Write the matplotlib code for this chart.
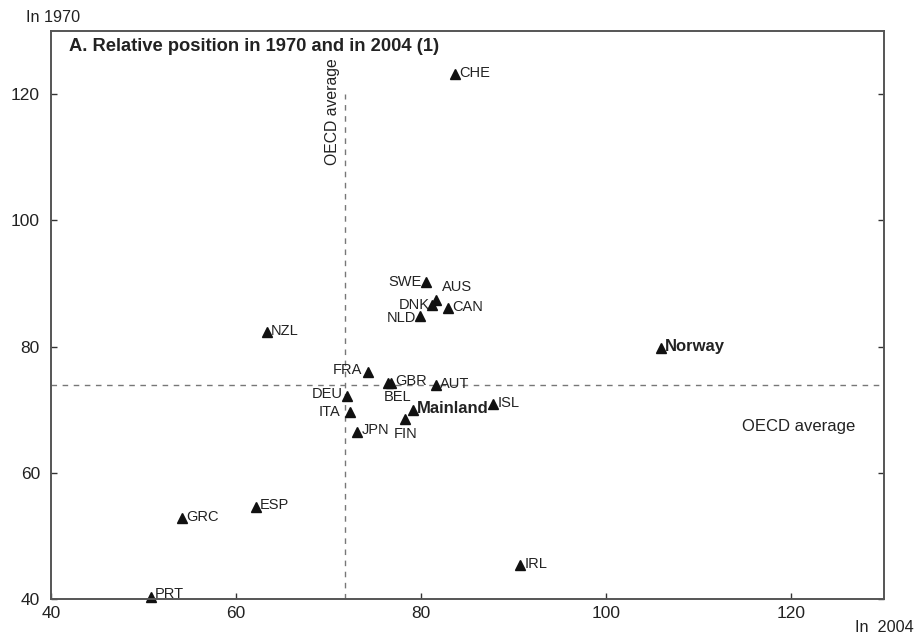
import matplotlib
matplotlib.use("Agg")
import matplotlib.pyplot as plt

plt.rcParams["font.family"] = ["Liberation Sans", "DejaVu Sans"]

# GDP per capita relative position (OECD-relative index)
countries = ["CHE", "SWE", "AUS", "DNK", "CAN", "NLD", "NZL", "FRA", "GBR", "BEL",
             "AUT", "DEU", "ITA", "JPN", "Mainland", "FIN", "ISL", "Norway",
             "GRC", "ESP", "PRT", "IRL"]
in_2004 = [83.7, 80.5, 81.6, 81.2, 82.9, 79.9, 63.3, 74.2, 76.7, 76.4,
           81.6, 72.0, 72.3, 73.1, 79.1, 78.3, 87.8, 105.9,
           54.2, 62.1, 50.8, 90.7]
in_1970 = [123.2, 90.2, 87.3, 86.6, 86.1, 84.8, 82.3, 76.0, 74.3, 74.2,
           73.9, 72.2, 69.6, 66.5, 69.9, 68.5, 70.9, 79.8,
           52.8, 54.6, 40.3, 45.4]
oecd_2004 = 71.8
oecd_1970 = 73.9

bold_labels = {"Mainland", "Norway"}
# label placement: (dx, dy) in points, ha, va
placement = {
    "SWE": (-3, 0, "right", "center"),
    "AUS": (4, 5, "left", "bottom"),
    "DNK": (-2, 0, "right", "center"),
    "NLD": (-3, -1, "right", "center"),
    "FRA": (-4, 1, "right", "center"),
    "BEL": (-3, -5, "left", "top"),
    "DEU": (-3, 1, "right", "center"),
    "ITA": (-7, 0, "right", "center"),
    "FIN": (0, -6, "center", "top"),
    "PRT": (3, 2, "left", "center"),
}

fig = plt.figure(figsize=(9.18, 6.39), dpi=100)
ax = fig.add_axes([51 / 918, 40 / 639, 833 / 918, 568 / 639])

ax.set_xlim(40, 130)
ax.set_ylim(40, 130)

ax.plot([oecd_2004, oecd_2004], [40, 120], ls=(0, (4, 4)), color="#777777", lw=1)
ax.axhline(oecd_1970, ls=(0, (4, 4)), color="#777777", lw=1)

ax.plot(in_2004, in_1970, ls="none", marker="^", ms=7.5, color="#111111", clip_on=False)

for name, x, y in zip(countries, in_2004, in_1970):
    dx, dy, ha, va = placement.get(name, (3, 1, "left", "center"))
    ax.annotate(name, (x, y), xytext=(dx, dy), textcoords="offset points",
                ha=ha, va=va, fontsize=12 if name in bold_labels else 10.5,
                fontweight="bold" if name in bold_labels else "normal",
                color="#222222")

ax.text(oecd_2004 - 0.6, 125.7, "OECD average", rotation=90, ha="right", va="top",
        fontsize=11.3, color="#222222")
ax.text(120.8, 67.3, "OECD average", ha="center", va="center", fontsize=12, color="#222222")

ax.text(0.022, 0.988, "A. Relative position in 1970 and in 2004 (1)", transform=ax.transAxes,
        ha="left", va="top", fontsize=13.2, fontweight="bold", color="#222222")

ax.set_xticks([40, 60, 80, 100, 120])
ax.set_yticks([40, 60, 80, 100, 120])
ax.tick_params(direction="in", length=4, width=1, labelsize=12.5, colors="#333333",
               right=True, labelcolor="#222222")
ax.tick_params(axis="x", pad=5)
ax.tick_params(axis="y", pad=8)
for s in ax.spines.values():
    s.set_color("#555555")
    s.set_linewidth(1.4)

fig.text(26 / 918, 1 - 17 / 639, "In 1970", ha="left", va="center", fontsize=11.7, color="#222222")
fig.text(914 / 918, 1 - 627 / 639, "In  2004", ha="right", va="center", fontsize=11.7, color="#222222")

fig.savefig("out.png", dpi=100)
